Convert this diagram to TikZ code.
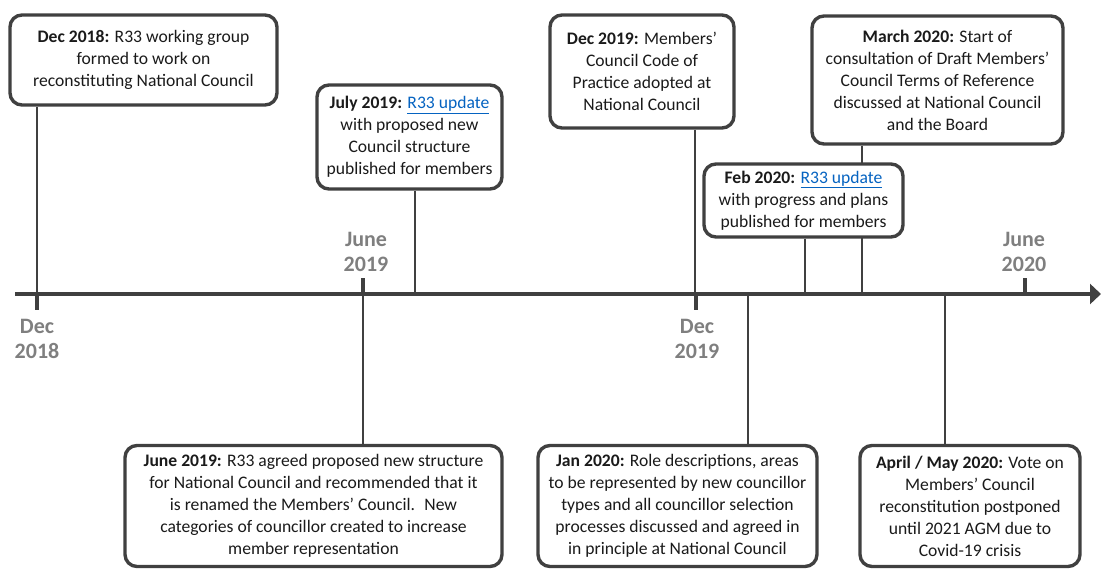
\documentclass[tikz,border=0pt]{standalone}
\usepackage{fontspec}
\setmainfont{Carlito}
\usetikzlibrary{arrows.meta,backgrounds}
\definecolor{lc}{HTML}{404040}
\definecolor{tc}{HTML}{7F7F7F}
\definecolor{linkc}{HTML}{0563C1}
\definecolor{txc}{HTML}{1A1A1A}
\newcommand{\lnk}[1]{\textcolor{linkc}{\underline{#1}}}
\begin{document}
\begin{tikzpicture}[x=1pt,y=-1pt,
  evbox/.style={draw=lc, line width=3.4pt, rounded corners=12pt, fill=white, align=center,
    font=\fontsize{17.6}{22}\selectfont, inner sep=0pt, text=txc},
  conn/.style={draw=lc, line width=2pt},
  tickln/.style={draw=lc, line width=3.4pt},
  axisln/.style={draw=lc, line width=4.5pt, -{Triangle[length=11pt,width=20pt]}},
  tlab/.style={text=tc, font=\fontsize{22}{25}\selectfont\bfseries, align=center, inner sep=0pt}]
\useasboundingbox (0,0) rectangle (1101,569);

% axis coordinates for events
\coordinate (e1) at (37,294);
\coordinate (e2) at (415,294);
\coordinate (e3) at (695,294);
\coordinate (e4) at (805,294);
\coordinate (e5) at (862,294);
\coordinate (e6) at (363,294);
\coordinate (e7) at (748,294);
\coordinate (e8) at (945,294);
\coordinate (a0) at (15,294);
\coordinate (a1) at (1101,294);

% tick coordinates
\coordinate (k1) at (37,294);  \coordinate (k1e) at (37,310);
\coordinate (k2) at (363,294); \coordinate (k2e) at (363,278);
\coordinate (k3) at (696,294); \coordinate (k3e) at (696,310);
\coordinate (k4) at (1025,294);\coordinate (k4e) at (1025,278);

% boxes
\path
 (143.5,60) node[evbox, minimum width=267pt, minimum height=90pt] (b1)
   {\textbf{Dec 2018:} R33 working group\\formed to work on\\reconstituting National Council}
 (409.5,137) node[evbox, minimum width=185pt, minimum height=104pt] (b2)
   {\textbf{July 2019:} \lnk{R33 update}\\with proposed new\\Council structure\\published for members}
 (642,71.5) node[evbox, minimum width=184pt, minimum height=113pt] (b3)
   {\textbf{Dec 2019:} Members’\\Council Code of\\Practice adopted at\\National Council}
 (937.5,80) node[evbox, minimum width=251pt, minimum height=128pt] (b4)
   {\textbf{March 2020:} Start of\\consultation of Draft Members’\\Council Terms of Reference\\discussed at National Council\\and the Board}
 (803.5,200.5) node[evbox, minimum width=199pt, minimum height=73pt] (b5)
   {\textbf{Feb 2020:} \lnk{R33 update}\\with progress and plans\\published for members}
 (313.5,506) node[evbox, minimum width=377pt, minimum height=121pt] (b6)
   {\textbf{June 2019:} R33 agreed proposed new structure\\for National Council and recommended that it\\is renamed the Members’ Council.~ New\\categories of councillor created to increase\\member representation}
 (677.5,506) node[evbox, minimum width=279pt, minimum height=121pt] (b7)
   {\textbf{Jan 2020:} Role descriptions, areas\\to be represented by new councillor\\types and all councillor selection\\processes discussed and agreed in\\in principle at National Council}
 (970,506) node[evbox, minimum width=220pt, minimum height=121pt] (b8)
   {\textbf{April / May 2020:} Vote on\\Members’ Council\\reconstitution postponed\\until 2021 AGM due to\\Covid-19 crisis};

% tick labels
\node[tlab] (l1) at (37,339) {Dec\\2018};
\node[tlab] (l2) at (366,252) {June\\2019};
\node[tlab] (l3) at (697,339) {Dec\\2019};
\node[tlab] (l4) at (1024,252) {June\\2020};

\begin{pgfonlayer}{background}
  % connectors
  \draw[conn] (b1.south -| e1) -- (e1);
  \draw[conn] (b2.south -| e2) -- (e2);
  \draw[conn] (b3.south -| e3) -- (e3);
  \draw[conn] (b5.south -| e4) -- (e4);
  \draw[conn] (b4.south -| e5) -- (e5);
  \draw[conn] (e6) -- (b6.north -| e6);
  \draw[conn] (e7) -- (b7.north -| e7);
  \draw[conn] (e8) -- (b8.north -| e8);
  % ticks
  \draw[tickln] (k1) -- (k1e);
  \draw[tickln] (k2) -- (k2e);
  \draw[tickln] (k3) -- (k3e);
  \draw[tickln] (k4) -- (k4e);
  % axis
  \draw[axisln] (a0) -- (a1);
\end{pgfonlayer}
\end{tikzpicture}
\end{document}
